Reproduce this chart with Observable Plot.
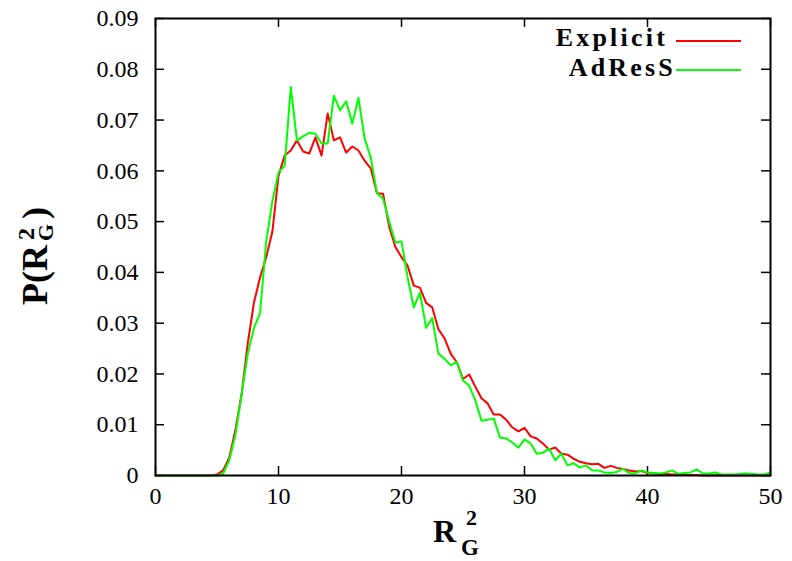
<!DOCTYPE html>
<html>
<head>
<meta charset="utf-8">
<script src="https://cdn.jsdelivr.net/npm/d3@7"></script>
<script src="https://cdn.jsdelivr.net/npm/@observablehq/plot@0.6"></script>
<style>
  html, body { margin: 0; padding: 0; background: white; }
  #chart { width: 792px; height: 561px; }
</style>
</head>
<body>
<div id="chart"></div>
<script>
// ---- data ----
const xStep = 0.5; // R_G^2 sampling step, values start at 0
const seriesNames = ["Explicit", "AdResS"];
const seriesColors = ["#ff0000", "#00ff00"];
const xTicks = [0, 10, 20, 30, 40, 50];
const yTicks = [0, 0.01, 0.02, 0.03, 0.04, 0.05, 0.06, 0.07, 0.08, 0.09];

const explicitP = [
  0, 0, 0, 0, 0, 0, 0, 0, 0, 0,
  0.0002, 0.001, 0.0035, 0.009, 0.016, 0.026, 0.034, 0.039, 0.043, 0.048,
  0.059, 0.063, 0.064, 0.066, 0.0638, 0.0634, 0.0666, 0.063, 0.0713, 0.066,
  0.0666, 0.0636, 0.0648, 0.064, 0.062, 0.0605, 0.0556, 0.0555, 0.049, 0.045,
  0.043, 0.0413, 0.0374, 0.037, 0.034, 0.0331, 0.0288, 0.027, 0.024, 0.0223,
  0.019, 0.0199, 0.0175, 0.0152, 0.0142, 0.012, 0.012, 0.011, 0.0095, 0.0087,
  0.0094, 0.0077, 0.0073, 0.0063, 0.0051, 0.0055, 0.0043, 0.0041, 0.0033, 0.0027,
  0.0024, 0.0022, 0.0023, 0.0015, 0.0019, 0.0015, 0.0013, 0.001, 0.0008, 0.0009,
  0.0005, 0.0004, 0.0003, 0.0003, 0.0002, 0.0002, 0.0001, 0.0001, 0.0001, 0,
  0, 0, 0, 0, 0, 0, 0, 0, 0, 0,
  0
];

const adressP = [
  0, 0, 0, 0, 0, 0, 0, 0, 0, 0,
  0, 0.0004, 0.003, 0.008, 0.016, 0.024, 0.029, 0.032, 0.046, 0.054,
  0.0597, 0.061, 0.0765, 0.066, 0.0668, 0.0675, 0.0673, 0.0654, 0.0654, 0.0748,
  0.0719, 0.0737, 0.0693, 0.0744, 0.0664, 0.0626, 0.0557, 0.0545, 0.050, 0.0459,
  0.0461, 0.039, 0.0331, 0.036, 0.0291, 0.031, 0.024, 0.023, 0.0217, 0.0224,
  0.0187, 0.0177, 0.0148, 0.0108, 0.011, 0.0112, 0.0075, 0.0073, 0.0065, 0.0055,
  0.0071, 0.0063, 0.0043, 0.0045, 0.0053, 0.003, 0.0043, 0.002, 0.0024, 0.0016,
  0.002, 0.001, 0.001, 0.0006, 0.0005, 0.0007, 0.0013, 0.0005, 0.0004, 0.001,
  0.0006, 0.0005, 0.0004, 0.0006, 0.001, 0.0003, 0.0005, 0.0006, 0.0012, 0.0004,
  0.0004, 0.0006, 0.0002, 0.0002, 0.0002, 0.0003, 0.0004, 0.0003, 0.0002, 0.0002,
  0.0006
];

// ---- build table ----
const rows = [];
[explicitP, adressP].forEach((arr, k) => {
  arr.forEach((p, i) => rows.push({ x: i * xStep, p, s: seriesNames[k] }));
});

const W = 792, H = 561;
const mL = 155, mR = 22, mT = 18, mB = 86;
const innerW = W - mL - mR, innerH = H - mT - mB;
const tickLen = 9;
const font = "Liberation Serif";

const svg = Plot.plot({
  width: W,
  height: H,
  marginLeft: mL,
  marginRight: mR,
  marginTop: mT,
  marginBottom: mB,
  style: { fontFamily: font, fontSize: "24px", background: "white", color: "black" },
  x: { domain: [0, 50] },
  y: { domain: [0, 0.09] },
  color: { domain: seriesNames, range: seriesColors },
  marks: [
    // inward ticks, mirrored on all four sides
    Plot.ruleX(xTicks, { x: d => d, insetTop: innerH - tickLen, stroke: "black", strokeWidth: 1.5 }),
    Plot.ruleX(xTicks, { x: d => d, insetBottom: innerH - tickLen, stroke: "black", strokeWidth: 1.5 }),
    Plot.ruleY(yTicks, { y: d => d, insetRight: innerW - tickLen, stroke: "black", strokeWidth: 1.5 }),
    Plot.ruleY(yTicks, { y: d => d, insetLeft: innerW - tickLen, stroke: "black", strokeWidth: 1.5 }),
    Plot.axisX(xTicks, { tickSize: 0, tickPadding: 11, label: null, fontSize: 24, fontFamily: font }),
    Plot.axisY(yTicks, { tickSize: 0, tickPadding: 17, label: null, fontSize: 24, fontFamily: font,
      tickFormat: d => d === 0 ? "0" : d.toFixed(2) }),
    Plot.lineY(rows.filter(r => r.s === seriesNames[0]), { x: "x", y: "p", stroke: "s", strokeWidth: 2 }),
    Plot.lineY(rows.filter(r => r.s === seriesNames[1]), { x: "x", y: "p", stroke: "s", strokeWidth: 2 }),
    Plot.frame({ stroke: "black", strokeWidth: 2 })
  ]
});

const s = d3.select(svg);

// legend (inside top-right of the frame)
const legendY = [41, 70];
const legendTextY = [46, 76];
const legendTextEnd = [668, 676];
seriesNames.forEach((name, k) => {
  s.append("text")
    .attr("x", legendTextEnd[k]).attr("y", legendTextY[k])
    .attr("text-anchor", "end")
    .attr("font-family", font)
    .attr("font-weight", "bold")
    .attr("font-size", 26)
    .attr("letter-spacing", 3.2)
    .attr("fill", "black")
    .text(name);
  s.append("line")
    .attr("x1", 676).attr("x2", 741)
    .attr("y1", legendY[k]).attr("y2", legendY[k])
    .attr("stroke", seriesColors[k]).attr("stroke-width", 2);
});

// x-axis title: R with stacked ^2 and _G
const xt = s.append("text")
  .attr("text-anchor", "start")
  .attr("font-family", font)
  .attr("font-weight", "bold")
  .attr("fill", "black");
xt.append("tspan").attr("x", 433).attr("y", 542).attr("font-size", 32).text("R");
xt.append("tspan").attr("x", 466).attr("y", 525).attr("font-size", 22).text("2");
xt.append("tspan").attr("x", 461).attr("y", 555).attr("font-size", 23).text("G");

// y-axis title: P(R^2_G), rotated; x' = -screenY, y' = screenX
const yt = s.append("text")
  .attr("transform", "rotate(-90)")
  .attr("text-anchor", "start")
  .attr("font-family", font)
  .attr("font-weight", "bold")
  .attr("fill", "black");
yt.append("tspan").attr("x", -305).attr("y", 47).attr("font-size", 36).text("P(R");
yt.append("tspan").attr("x", -240).attr("y", 34).attr("font-size", 24).text("2");
yt.append("tspan").attr("x", -241).attr("y", 53).attr("font-size", 22).text("G");
yt.append("tspan").attr("x", -219).attr("y", 47).attr("font-size", 36).text(")");

document.getElementById("chart").appendChild(svg);
</script>
</body>
</html>
